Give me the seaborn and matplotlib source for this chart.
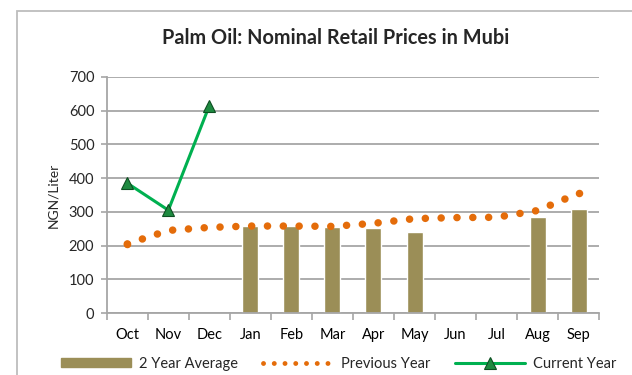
import numpy as np
import pandas as pd
import matplotlib
matplotlib.use("Agg")
import matplotlib.pyplot as plt
import matplotlib.patches as mpatches
from matplotlib.lines import Line2D
import seaborn as sns

months = ["Oct", "Nov", "Dec", "Jan", "Feb", "Mar", "Apr", "May", "Jun", "Jul", "Aug", "Sep"]
two_year_avg = [np.nan, np.nan, np.nan, 259, 259, 256, 251, 239, np.nan, np.nan, 286, 310]
previous_year = [205, 245, 254, 258, 258, 257, 266, 280, 283, 284, 304, 355]
current_year = [385, 305, 615, np.nan, np.nan, np.nan, np.nan, np.nan, np.nan, np.nan, np.nan, np.nan]
y_ticks = [0, 100, 200, 300, 400, 500, 600, 700]

BAR = "#9b8e57"
ORANGE = "#e46c0a"
GREEN = "#00b050"
GRID = "#a6a6a6"

sns.set_theme(style="white")
plt.rcParams["font.family"] = ["Lato", "DejaVu Sans"]

df = pd.DataFrame({
    "month": months,
    "pos": np.arange(len(months)),
    "avg": two_year_avg,
    "prev": previous_year,
    "cur": current_year,
})

fig = plt.figure(figsize=(6.32, 3.75), dpi=100)
ax = fig.add_axes([0.169, 0.165, 0.779, 0.63])

sns.barplot(data=df, x="pos", y="avg", color=BAR, width=0.39, saturation=1,
            ax=ax, zorder=2, native_scale=True)
# round-dot line; the end points carry a dot of the same size
sns.lineplot(data=df, x="pos", y="prev", ax=ax, color=ORANGE, lw=5.4,
             linestyle=(0, (0.01, 2.1)), dash_capstyle="round", zorder=3,
             marker="o", markersize=5.4, markeredgewidth=0,
             markevery=[0, len(months) - 1])
sns.lineplot(data=df.dropna(subset=["cur"]), x="pos", y="cur", ax=ax, color=GREEN,
             lw=2.2, marker="^", markersize=9, markerfacecolor="#1e8a40",
             markeredgecolor="#0d4f22", markeredgewidth=0.8, zorder=4)

ax.set_xlim(-0.5, len(months) - 0.5)
ax.set_ylim(0, 700)
ax.set_yticks(y_ticks)
ax.set_xticks(df["pos"])
ax.set_xticklabels(months)
ax.set_xticks(np.arange(-0.5, len(months)), minor=True)
ax.set_xlabel("")
ax.set_ylabel("NGN/Liter", fontsize=10, labelpad=7)
ax.yaxis.grid(True, color=GRID, lw=1.3, zorder=0)
ax.set_axisbelow(True)
for side in ["top", "right"]:
    ax.spines[side].set_visible(False)
for side in ["left", "bottom"]:
    ax.spines[side].set_color(GRID)
    ax.spines[side].set_linewidth(1.3)
ax.tick_params(axis="x", which="major", length=0, pad=11, labelsize=10.5, colors="black")
ax.tick_params(axis="x", which="minor", length=5, width=1.2, color=GRID, direction="out", bottom=True)
ax.tick_params(axis="y", length=4, width=1.2, color=GRID, direction="out", left=True,
               pad=5, labelsize=10.5)

ax.set_title("Palm Oil: Nominal Retail Prices in Mubi", fontsize=14.3, fontweight="bold",
             x=0.465, y=1.0, pad=24)

handles = [
    mpatches.Patch(color=BAR),
    Line2D([0], [0], color=ORANGE, lw=3.5, linestyle=(0, (0.01, 2.2)), dash_capstyle="round"),
    Line2D([0], [0], color=GREEN, lw=2.2, marker="^", markersize=9,
           markerfacecolor="#1e8a40", markeredgecolor="#0d4f22", markeredgewidth=0.8),
]
labels = ["2 Year Average", "Previous Year", "Current Year"]
fig.legend(handles, labels, loc="center", bbox_to_anchor=(0.536, 0.03), ncol=3,
           frameon=False, fontsize=10.5, handlelength=4.8, handleheight=0.6,
           columnspacing=1.75, handletextpad=0.5)

fig.patches.append(mpatches.Rectangle((17 / 632, -0.1), 1.1, 1.1 - 11 / 375,
                                      transform=fig.transFigure, fill=False,
                                      edgecolor="#bdbdbd", lw=1.3, zorder=-1))

fig.savefig("out.png", dpi=100)
